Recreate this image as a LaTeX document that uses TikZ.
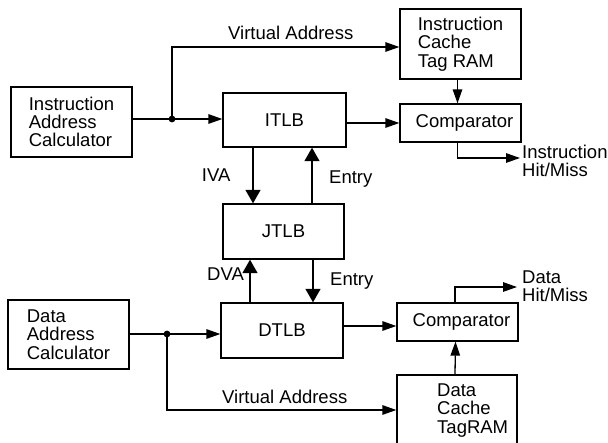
\documentclass[tikz,border=0pt]{standalone}
\usepackage{fontspec}
\setmainfont{Liberation Sans}
\usetikzlibrary{arrows.meta}
\begin{document}
\begin{tikzpicture}[x=1pt,y=-1pt,
  every node/.style={font=\fontsize{18.5}{18.3}\selectfont},
  blk/.style={draw, line width=1.3pt, inner sep=0pt, align=left},
  lbl/.style={inner sep=0pt, anchor=base west},
  txt/.style={inner sep=0pt, anchor=north west, align=left},
  arr/.style={line width=1.3pt, -{Triangle[length=14pt,width=9.5pt]}},
  bigarr/.style={line width=1.3pt, -{Triangle[length=13.5pt,width=15pt]}},
  wire/.style={line width=1.3pt},
]
\useasboundingbox (0,0) rectangle (608,442);
\clip (0,0) rectangle (608,442);

% boxes
\node[blk, minimum width=121pt, minimum height=70pt] (icalc) at (71.5,122) {Instruction\\Address\\Calculator};
\node[blk, minimum width=123pt, minimum height=54pt] (itlb) at (284.5,120) {ITLB};
\node[blk, minimum width=121pt, minimum height=70pt] (icache) at (460.5,44) {Instruction\\Cache\\Tag RAM};
\node[blk, minimum width=121pt, minimum height=38pt] (icomp) at (460.5,123) {\hspace*{8pt}Comparator};
\node[blk, minimum width=121pt, minimum height=55pt] (jtlb) at (283.5,231.5) {JTLB};
\node[blk, minimum width=122pt, minimum height=55pt] (dtlb) at (282,330.5) {DTLB};
\node[blk, minimum width=121pt, minimum height=69pt] (dcalc) at (68.5,334.5) {Data\\Address\\Calculator};
\node[blk, minimum width=121pt, minimum height=38pt] (dcomp) at (457.5,322) {\hspace*{8pt}Comparator};
\node[blk, minimum width=120pt, minimum height=100pt] (dcache) at (457,425) {};
\node[txt] (dcachetxt) at (437,383.5) {Data\\Cache\\TagRAM};

% instruction side
\coordinate (j1) at (172,119);
\draw[wire] (icalc.east |- j1) -- (j1);
\draw[arr] (j1) -- (itlb.west |- j1);
\draw[arr] (j1) |- ([yshift=-3pt]icache.west);
\fill (j1) circle (3.4pt);
\draw[arr] (itlb.east |- icomp.west) -- (icomp.west);
\draw[arr] ([xshift=-3pt]icache.south) -- ([xshift=-3pt]icomp.north);
\coordinate (ihm) at (520,158);
\draw[arr] ([xshift=-3pt]icomp.south) |- (ihm);
\node[txt] (ihmtxt) at (522,145) {Instruction\\Hit/Miss};

% TLB connections
\coordinate (xiva) at (253,0);
\coordinate (xient) at (312,0);
\coordinate (xdva) at (250,0);
\coordinate (xdent) at (313,0);
\draw[bigarr] (itlb.south -| xiva) -- (jtlb.north -| xiva);
\draw[bigarr] (jtlb.north -| xient) -- (itlb.south -| xient);
\draw[bigarr] (dtlb.north -| xdva) -- (jtlb.south -| xdva);
\draw[bigarr] (jtlb.south -| xdent) -- (dtlb.north -| xdent);

% data side
\coordinate (j2) at (167,334);
\draw[wire] (dcalc.east |- j2) -- (j2);
\draw[arr] (j2) -- (dtlb.west |- j2);
\draw[arr] (j2) |- ([yshift=15pt]dcache.west);
\fill (j2) circle (3.4pt);
\draw[arr] ([yshift=4.5pt]dtlb.east) -- ([yshift=4.5pt]dtlb.east -| dcomp.west);
\draw[arr] ([xshift=-2pt]dcache.north) -- ([xshift=-2pt]dcomp.south);
\coordinate (dhm) at (517,287);
\draw[arr] ([xshift=-2.5pt]dcomp.north) |- (dhm);
\node[txt] (dhmtxt) at (522,270.5) {Data\\Hit/Miss};

% labels
\node[lbl] (va1) at (228,39) {Virtual Address};
\node[lbl] (va2) at (222,403.7) {Virtual Address};
\node[lbl] (iva) at (201.7,181) {IVA};
\node[lbl] (ient) at (329,183) {Entry};
\node[lbl] (dva) at (207,280) {DVA};
\node[lbl] (dent) at (330,285) {Entry};
\end{tikzpicture}
\end{document}
